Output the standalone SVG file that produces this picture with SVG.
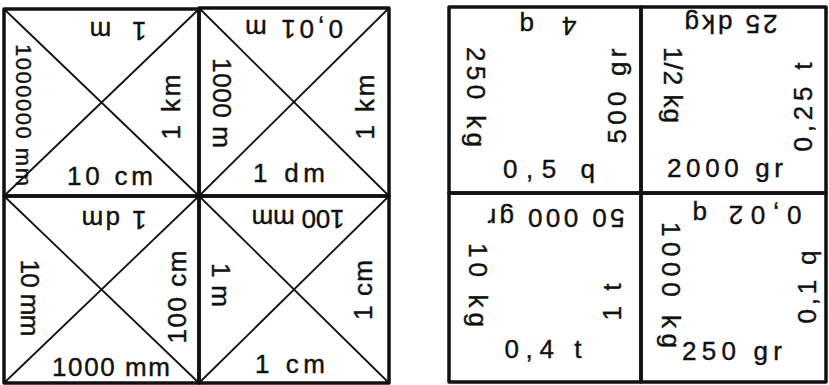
<svg xmlns="http://www.w3.org/2000/svg" width="829" height="385" viewBox="0 0 829 385">
<style>
.b{fill:none;stroke:#111;stroke-width:3.5;stroke-linejoin:round}
.d{stroke:#111;stroke-width:1.8}
text{font-family:"Liberation Sans","DejaVu Sans",sans-serif;font-size:26px;fill:#111;stroke:#111;stroke-width:0.4;text-anchor:middle;dominant-baseline:central}
.s{font-size:22px}
</style>
<rect width="829" height="385" fill="#fff"/>
<g id="left-grid">
<g id="sq1">
<rect class="b" x="4" y="9" width="195" height="187"/>
<line class="d" x1="4" y1="9" x2="199" y2="196"/><line class="d" x1="199" y1="9" x2="4" y2="196"/>
<text transform="translate(118,31) rotate(180)" textLength="57" lengthAdjust="spacing">1 m</text>
<text transform="translate(171,107) rotate(-90)" textLength="65" lengthAdjust="spacing">1 km</text>
<text transform="translate(110,176)" textLength="86" lengthAdjust="spacing">10 cm</text>
<text class="s" transform="translate(23,115) rotate(90)" textLength="142" lengthAdjust="spacing">1000000 mm</text>
</g>
<g id="sq2">
<rect class="b" x="199" y="8" width="190" height="188"/>
<line class="d" x1="199" y1="8" x2="389" y2="196"/><line class="d" x1="389" y1="8" x2="199" y2="196"/>
<text transform="translate(294,29) rotate(180)" textLength="98" lengthAdjust="spacing">0,01 m</text>
<text transform="translate(222,103) rotate(90)" textLength="90" lengthAdjust="spacing">1000 m</text>
<text transform="translate(365,107) rotate(-90)" textLength="65" lengthAdjust="spacing">1 km</text>
<text transform="translate(289,173)" textLength="72" lengthAdjust="spacing">1 dm</text>
</g>
<g id="sq3">
<rect class="b" x="4" y="196" width="195" height="187"/>
<line class="d" x1="4" y1="196" x2="199" y2="383"/><line class="d" x1="199" y1="196" x2="4" y2="383"/>
<text transform="translate(114,220) rotate(180)" textLength="65" lengthAdjust="spacing">1 dm</text>
<text transform="translate(30,298) rotate(90)" textLength="77" lengthAdjust="spacing">10 mm</text>
<text transform="translate(177,297) rotate(-90)" textLength="93" lengthAdjust="spacing">100 cm</text>
<text transform="translate(111,367)" textLength="118" lengthAdjust="spacing">1000 mm</text>
</g>
<g id="sq4">
<rect class="b" x="199" y="196" width="190" height="187"/>
<line class="d" x1="199" y1="196" x2="389" y2="383"/><line class="d" x1="389" y1="196" x2="199" y2="383"/>
<text transform="translate(298,219) rotate(180)" textLength="93" lengthAdjust="spacing">100 mm</text>
<text transform="translate(221,285) rotate(90)" textLength="44" lengthAdjust="spacing">1 m</text>
<text transform="translate(363,290) rotate(-90)" textLength="60" lengthAdjust="spacing">1 cm</text>
<text transform="translate(290,364)" textLength="70" lengthAdjust="spacing">1 cm</text>
</g>
</g>
<g id="right-grid">
<g id="cellA">
<rect class="b" x="449" y="7" width="192" height="186"/>
<text transform="translate(548,26) rotate(180)" textLength="57" lengthAdjust="spacing">4 q</text>
<text transform="translate(476,97) rotate(90)" textLength="100" lengthAdjust="spacing">250 kg</text>
<text transform="translate(617,96) rotate(-90)" textLength="95" lengthAdjust="spacing">500 gr</text>
<text transform="translate(549,169)" textLength="92" lengthAdjust="spacing">0,5 q</text>
</g>
<g id="cellB">
<rect class="b" x="641" y="7" width="185" height="186"/>
<text transform="translate(731,24) rotate(180)" textLength="93" lengthAdjust="spacing">25 dkg</text>
<text transform="translate(673,85) rotate(90)" textLength="76" lengthAdjust="spacing">1/2 kg</text>
<text transform="translate(803,107) rotate(-90)" textLength="89" lengthAdjust="spacing">0,25 t</text>
<text transform="translate(725,168)" textLength="116" lengthAdjust="spacing">2000 gr</text>
</g>
<g id="cellC">
<rect class="b" x="449" y="193" width="192" height="189"/>
<text transform="translate(556,218) rotate(180)" textLength="137" lengthAdjust="spacing">50 000 gr</text>
<text transform="translate(478,285) rotate(90)" textLength="84" lengthAdjust="spacing">10 kg</text>
<text transform="translate(612,302) rotate(-90)" textLength="37" lengthAdjust="spacing">1 t</text>
<text transform="translate(543,349)" textLength="77" lengthAdjust="spacing">0,4 t</text>
</g>
<g id="cellD">
<rect class="b" x="641" y="193" width="185" height="189"/>
<text transform="translate(747,215) rotate(180)" textLength="109" lengthAdjust="spacing">0,02 q</text>
<text transform="translate(671,285) rotate(90)" textLength="126" lengthAdjust="spacing">1000 kg</text>
<text transform="translate(807,287) rotate(-90)" textLength="73" lengthAdjust="spacing">0,1 q</text>
<text transform="translate(732,351)" textLength="100" lengthAdjust="spacing">250 gr</text>
</g>
</g>
</svg>
